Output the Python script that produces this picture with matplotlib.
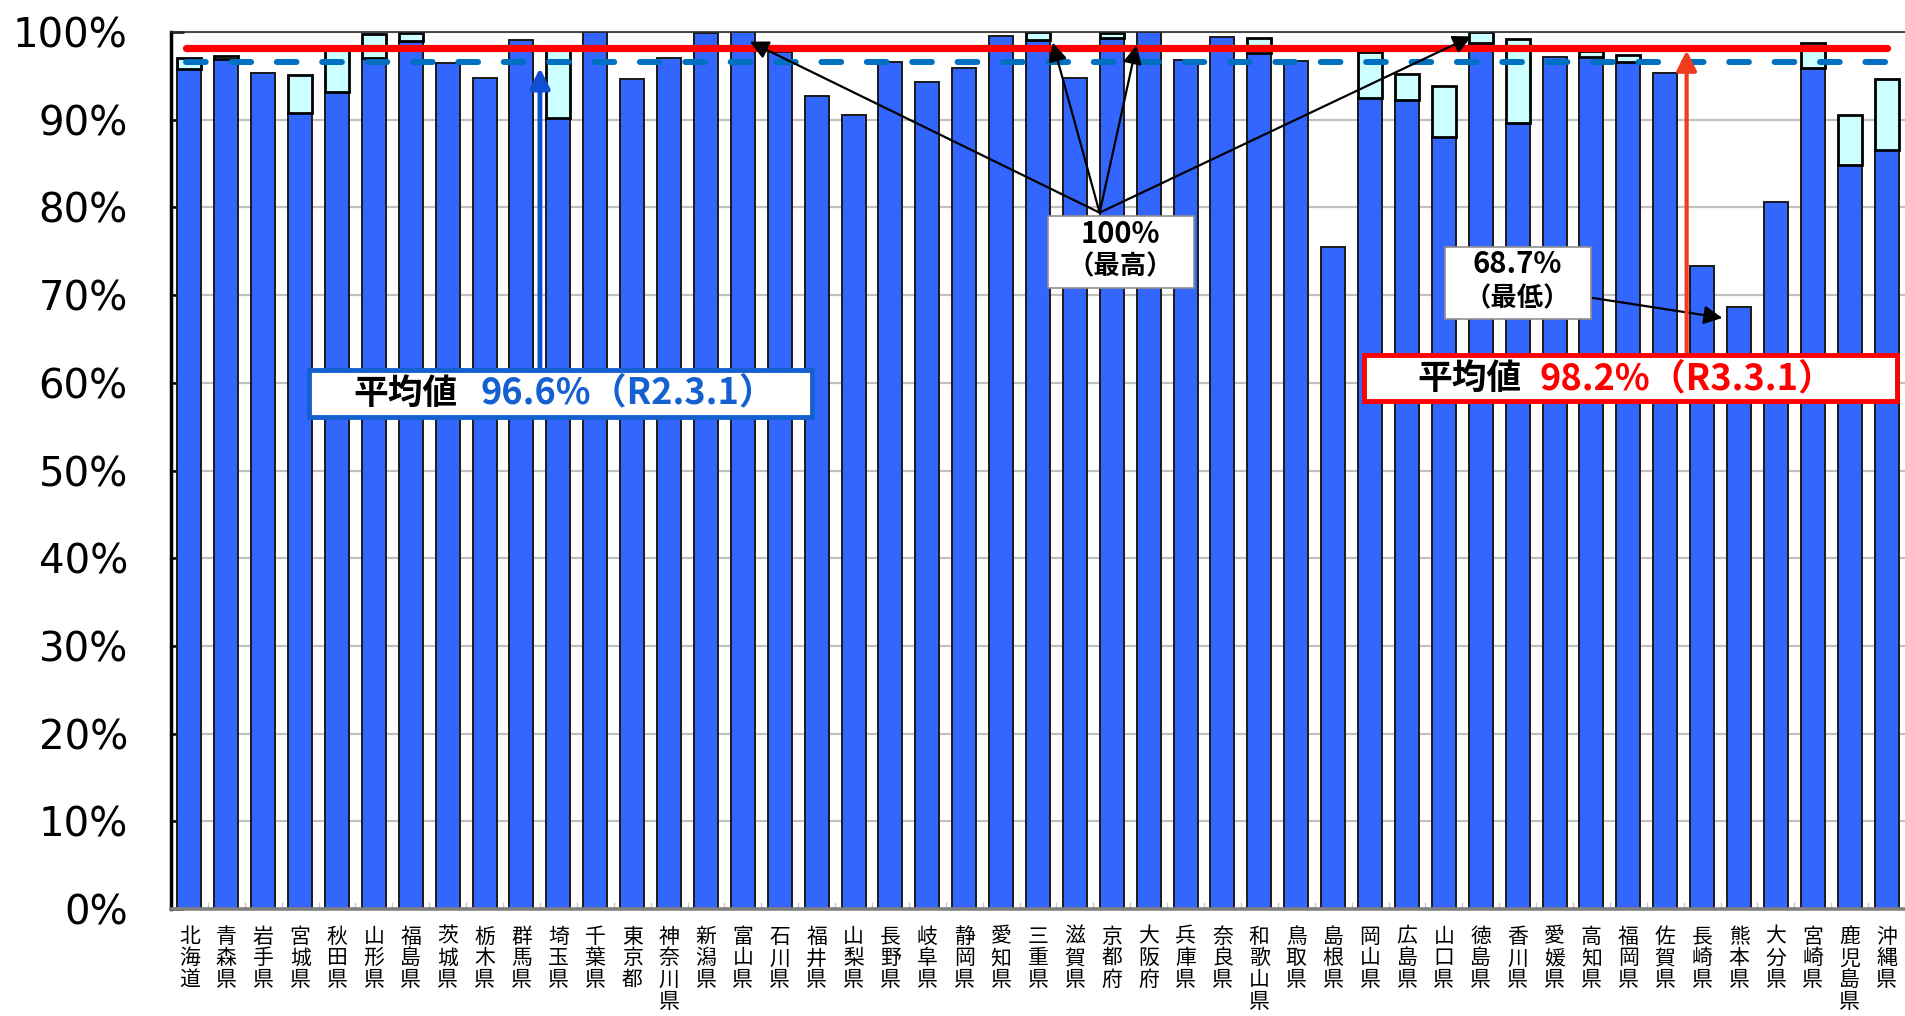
import numpy as np
import matplotlib
matplotlib.use('Agg')
import matplotlib.pyplot as plt
from matplotlib.patches import Rectangle

plt.rcParams['font.family'] = ['Noto Sans CJK JP', 'DejaVu Sans']

# Prefectures (left to right)
prefs = ['北海道', '青森県', '岩手県', '宮城県', '秋田県', '山形県', '福島県', '茨城県',
         '栃木県', '群馬県', '埼玉県', '千葉県', '東京都', '神奈川県', '新潟県', '富山県',
         '石川県', '福井県', '山梨県', '長野県', '岐阜県', '静岡県', '愛知県', '三重県',
         '滋賀県', '京都府', '大阪府', '兵庫県', '奈良県', '和歌山県', '鳥取県', '島根県',
         '岡山県', '広島県', '山口県', '徳島県', '香川県', '愛媛県', '高知県', '福岡県',
         '佐賀県', '長崎県', '熊本県', '大分県', '宮崎県', '鹿児島県', '沖縄県']

# R2.3.1 values (blue bars), %
r2 = [95.8, 96.9, 95.3, 90.8, 93.2, 97.0, 99.0, 96.5, 94.8, 99.1, 90.2, 100.0,
      94.6, 97.0, 99.9, 100.0, 97.7, 92.7, 90.5, 96.6, 94.3, 95.9, 99.5, 99.1,
      94.7, 99.3, 100.0, 96.85, 99.4, 97.6, 96.7, 75.5, 92.5, 92.3, 88.0, 98.7,
      89.6, 97.2, 97.1, 96.6, 95.3, 73.3, 68.7, 80.6, 95.9, 84.8, 86.5]

# R3.3.1 values (top of light bars), %
r3 = [97.0, 97.3, 95.3, 95.1, 98.0, 99.8, 99.9, 96.5, 94.8, 99.1, 98.0, 100.0,
      94.6, 97.0, 99.9, 100.0, 97.7, 92.7, 90.5, 96.6, 94.3, 95.9, 99.5, 100.0,
      94.7, 99.9, 100.0, 96.85, 99.4, 99.3, 96.7, 75.5, 97.7, 95.2, 93.9, 100.0,
      99.2, 97.2, 97.8, 97.4, 95.3, 73.3, 68.7, 80.6, 98.8, 90.5, 94.6]

avg_r2 = 96.6
avg_r3 = 98.2

x = np.arange(len(prefs))
r2 = np.array(r2)
r3 = np.array(r3)
diff = r3 - r2

fig = plt.figure(figsize=(19.06, 10.16), dpi=100)
ax = fig.add_axes([0.0897, 0.1053, 0.9098, 0.8632])

ax.bar(x, r2, width=0.65, color='#3366FF', edgecolor='#1a1a1a', linewidth=1.4, zorder=2)
up = diff > 0.05
ax.bar(x[up], diff[up], bottom=r2[up], width=0.65, color='#CCFFFF',
       edgecolor='black', linewidth=2.0, zorder=2)

# average lines
ax.plot([-0.08, 46.0], [avg_r3, avg_r3], color='#FF0000', lw=5.2,
        solid_capstyle='round', zorder=4)
ax.plot([-0.08, 46.0], [avg_r2, avg_r2], color='#0070C0', lw=4.3,
        dashes=(3.3, 4.3), dash_capstyle='round', zorder=4)

ax.set_xlim(-0.5, 46.5)
ax.set_ylim(0, 100)
ax.set_yticks(np.arange(0, 101, 10))
ax.set_yticklabels([f'{v}%' for v in range(0, 101, 10)], family='DejaVu Sans', fontsize=29)
ax.tick_params(axis='y', direction='in', length=9, width=1.8, pad=31, color='black')
ax.grid(axis='y', color='#C0C0C0', lw=1.6, zorder=0)
ax.set_axisbelow(True)

ax.set_xticks(x)
ax.set_xticklabels(['\n'.join(p) for p in prefs], fontsize=15, va='top', linespacing=0.98)
ax.tick_params(axis='x', length=0, pad=12)
ax.set_xticks(np.arange(-0.5, 46.6, 1), minor=True)
ax.tick_params(axis='x', which='minor', direction='in', length=5, width=1, color='#C8C8C8')

ax.spines['left'].set_linewidth(2.5)
ax.spines['left'].set_color('black')
ax.spines['bottom'].set_linewidth(2.6)
ax.spines['bottom'].set_color('#808080')
ax.spines['top'].set_linewidth(1.2)
ax.spines['top'].set_color('#303030')
ax.spines['right'].set_visible(False)

# arrows to max values
ap = dict(arrowstyle='-|>', color='black', lw=1.6, mutation_scale=28, shrinkA=0, shrinkB=0)
tail = (24.67, 79.4)
for head in [(15.19, 98.9), (23.4, 98.8), (25.67, 98.5), (34.75, 99.5)]:
    ax.annotate('', xy=head, xytext=tail, arrowprops=ap, zorder=5)
ax.add_patch(Rectangle((23.26, 70.8), 3.96, 8.2, facecolor='white', edgecolor='#909090',
                       lw=1.2, zorder=6))
ax.text(25.24, 77.0, '100%', ha='center', va='center', fontsize=21, weight='bold', zorder=7)
ax.text(25.24, 73.2, '（最高）', ha='center', va='center', fontsize=19, weight='bold', zorder=7)

# arrow to min value
ax.annotate('', xy=(41.55, 67.4), xytext=(38.0, 69.7), arrowprops=ap, zorder=5)
ax.add_patch(Rectangle((34.02, 67.3), 3.98, 8.2, facecolor='white', edgecolor='#909090',
                       lw=1.2, zorder=6))
ax.text(36.0, 73.6, '68.7%', ha='center', va='center', fontsize=21, weight='bold', zorder=7)
ax.text(36.0, 69.6, '（最低）', ha='center', va='center', fontsize=19, weight='bold', zorder=7)

# average labels
ax.annotate('', xy=(9.5, 95.9), xytext=(9.5, 61.5),
            arrowprops=dict(arrowstyle='-|>', color='#1050D0', lw=3.5, mutation_scale=30,
                            shrinkA=0, shrinkB=0), zorder=5)
ax.add_patch(Rectangle((3.24, 56.1), 13.63, 5.36, facecolor='white', edgecolor='#1560D0',
                       lw=3.5, zorder=6))
ax.text(5.86, 58.8, '平均値', ha='center', va='center', fontsize=25, weight='bold', zorder=7)
ax.text(7.9, 58.8, f'{avg_r2}%（R2.3.1）', ha='left', va='center', fontsize=26,
        weight='bold', color='#1560D0', zorder=7)

ax.annotate('', xy=(40.58, 97.9), xytext=(40.58, 63.2),
            arrowprops=dict(arrowstyle='-|>', color='#F03C1E', lw=3, mutation_scale=30,
                            shrinkA=0, shrinkB=0), zorder=5)
ax.add_patch(Rectangle((31.83, 57.9), 14.44, 5.27, facecolor='white', edgecolor='#FF0000',
                       lw=3.5, zorder=6))
ax.text(34.7, 60.5, '平均値', ha='center', va='center', fontsize=25, weight='bold', zorder=7)
ax.text(36.6, 60.5, f'{avg_r3}%（R3.3.1）', ha='left', va='center', fontsize=26,
        weight='bold', color='#FF0000', zorder=7)

fig.savefig('out.png', dpi=100)
